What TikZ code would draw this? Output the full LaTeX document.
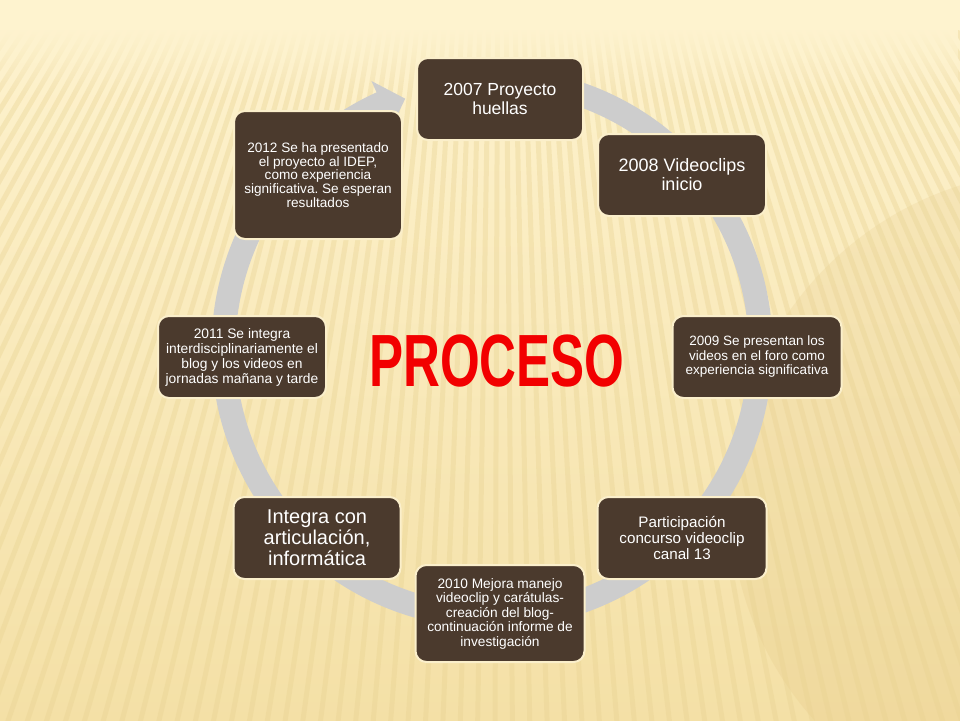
\documentclass[tikz,border=0pt]{standalone}
\usepackage{fontspec}
\setmainfont{Liberation Sans}
\usetikzlibrary{fadings}
\definecolor{bgtop}{HTML}{FEF3CF}
\definecolor{bgbot}{HTML}{F4E0A6}
\definecolor{stripecol}{HTML}{E8D291}
\definecolor{boxfill}{HTML}{4B3A2D}
\definecolor{boxline}{HTML}{FBEFCB}
\definecolor{ringcol}{HTML}{CDCDCD}
\definecolor{procred}{HTML}{F20000}
\definecolor{tanshade}{HTML}{D8B56A}
\tikzfading[name=fadedown, top color=transparent!0, bottom color=transparent!100]
\begin{document}
\frenchspacing
\begin{tikzpicture}[x=1pt,y=-1pt,
  stagebox/.style={draw=boxline, line width=2pt, fill=boxfill, rounded corners=11pt,
    text=white, align=center, inner sep=2pt, minimum width=166pt, minimum height=82pt},
  stripe/.style={draw=stripecol, line width=5pt, opacity=0.36}]
\useasboundingbox (0,0) rectangle (960,720);
\begin{scope}
\clip (0,0) rectangle (960,720);
% background
\shade[top color=bgtop, bottom color=bgbot] (0,0) rectangle (960,720);
\fill[tanshade, opacity=0.14] (1060,500) circle[radius=330];
\foreach \a in {-38,-37.3,...,36}
  \draw[stripe] (500,-700) ++(90-\a:660) -- ++(90-\a:900);
\fill[bgtop] (0,0) rectangle (960,30);
\fill[bgtop, path fading=fadedown] (0,29) rectangle (960,95);
% circular arrow
\begin{scope}[shift={(492,348)}]
\fill[ringcol] (-80:280.5) arc[start angle=-80, end angle=245.7, radius=280.5]
  -- (245.7:293) -- (250.8:264) -- (245.7:243) -- (245.7:256.5)
  arc[start angle=245.7, end angle=-80, radius=256.5] -- cycle;
\end{scope}
\end{scope}
% boxes
\node[stagebox, font=\fontsize{17.5}{19}\selectfont] (b2007) at (500,99) {2007 Proyecto\\huellas};
\node[stagebox, minimum width=168pt, font=\fontsize{18}{19}\selectfont] (b2008) at (682,175) {2008 Videoclips\\inicio};
\node[stagebox, minimum width=169pt, font=\fontsize{13.5}{14.5}\selectfont] (b2009) at (757,357) {2009 Se presentan los\\videos en el foro como\\experiencia significativa};
\node[stagebox, minimum width=169pt, font=\fontsize{15.2}{16}\selectfont] (bpart) at (682,538) {Participación\\concurso videoclip\\canal 13};
\node[stagebox, minimum width=169pt, minimum height=97pt, font=\fontsize{13.7}{14.5}\selectfont] (b2010) at (500,613.5) {2010 Mejora manejo\\videoclip y carátulas-\\creación del blog-\\continuación informe de\\investigación};
\node[stagebox, minimum width=167pt, font=\fontsize{20}{21}\selectfont] (binteg) at (317,538) {Integra con\\articulación,\\informática};
\node[stagebox, minimum width=168pt, font=\fontsize{13.8}{15}\selectfont] (b2011) at (242,357) {2011 Se integra\\interdisciplinariamente el\\blog y los videos en\\jornadas mañana y tarde};
\node[stagebox, minimum width=168pt, minimum height=128pt, font=\fontsize{13.6}{13.7}\selectfont] (b2012) at (318,175) {2012 Se ha presentado\\el proyecto al IDEP,\\como experiencia\\significativa. Se esperan\\resultados};
% title
\node[text=procred, inner sep=0pt] (title) at (497,361) {\scalebox{0.69}[1]{\fontsize{74}{74}\selectfont\bfseries PROCESO}};
\end{tikzpicture}
\end{document}
